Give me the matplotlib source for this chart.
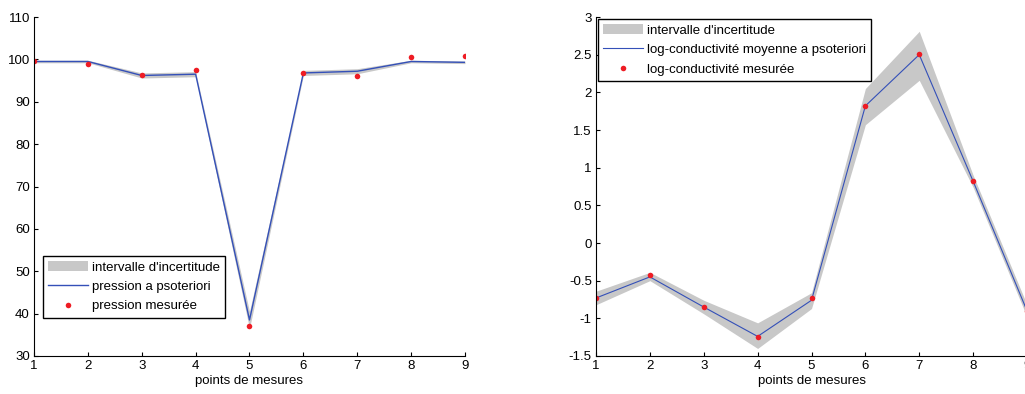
import numpy as np
import matplotlib
matplotlib.use("Agg")
import matplotlib.pyplot as plt

plt.rcParams['font.family'] = ['Liberation Sans', 'DejaVu Sans']

points = [1, 2, 3, 4, 5, 6, 7, 8, 9]

# left: pressure
p_mean = [99.5, 99.5, 96.2, 96.5, 38.5, 96.8, 97.2, 99.5, 99.3]
p_low = [99.2, 99.2, 95.6, 95.9, 36.5, 96.2, 96.6, 99.2, 99.0]
p_high = [99.8, 99.8, 96.8, 97.1, 40.5, 97.4, 97.8, 99.8, 99.6]
p_meas = [99.5, 98.9, 96.3, 97.5, 37.1, 96.9, 96.1, 100.6, 100.8]

# right: log-conductivity
k_mean = [-0.73, -0.45, -0.85, -1.24, -0.76, 1.82, 2.50, 0.82, -0.90]
k_low = [-0.82, -0.50, -0.94, -1.40, -0.87, 1.57, 2.16, 0.74, -0.98]
k_high = [-0.64, -0.39, -0.76, -1.06, -0.66, 2.05, 2.81, 0.90, -0.82]
k_meas = [-0.73, -0.43, -0.85, -1.245, -0.73, 1.82, 2.51, 0.82, -0.90]

W, H = 1025, 394
fig = plt.figure(figsize=(W / 100, H / 100), dpi=100)

band_c = '#c8c8c8'
line_c = '#3450b8'
dot_c = '#ee1c24'
fs = 9.5


def px_axes(l, r, t, b):
    return fig.add_axes([l / W, 1 - b / H, (r - l) / W, (b - t) / H])


def style(ax):
    for s in ['top', 'right']:
        ax.spines[s].set_visible(False)
    ax.tick_params(direction='in', length=3, width=0.8, labelsize=fs, pad=3)
    ax.set_xlabel('points de mesures', fontsize=fs, labelpad=2)


legkw = dict(loc='upper left', bbox_transform=fig.transFigure, fontsize=fs, frameon=True,
             fancybox=False, edgecolor='black', framealpha=1, handlelength=3.0,
             borderaxespad=0, borderpad=0.4, labelspacing=0.55, handletextpad=0.3)

ax1 = px_axes(34, 465, 17, 356)
ax1.fill_between(points, p_low, p_high, color=band_c, lw=0, label="intervalle d'incertitude")
ax1.plot(points, p_mean, color=line_c, lw=1, label='pression a psoteriori')
ax1.plot(points, p_meas, 'o', color=dot_c, ms=4, mec='none', label='pression mesurée')
ax1.set_xlim(1, 9)
ax1.set_ylim(30, 110)
ax1.set_xticks(points)
ax1.set_yticks(np.arange(30, 111, 10))
style(ax1)
leg1 = ax1.legend(bbox_to_anchor=(43 / W, 1 - 256 / H), **legkw)
leg1.get_frame().set_linewidth(1.0)

ax2 = px_axes(596, 1027, 17, 356)
ax2.fill_between(points, k_low, k_high, color=band_c, lw=0, label="intervalle d'incertitude")
ax2.plot(points, k_mean, color=line_c, lw=0.8, label='log-conductivité moyenne a psoteriori')
ax2.plot(points, k_meas, 'o', color=dot_c, ms=4, mec='none', label='log-conductivité mesurée')
ax2.set_xlim(1, 9)
ax2.set_ylim(-1.5, 3)
ax2.set_xticks(points)
ax2.set_yticks([-1.5, -1, -0.5, 0, 0.5, 1, 1.5, 2, 2.5, 3])
ax2.set_yticklabels(['-1.5', '-1', '-0.5', '0', '0.5', '1', '1.5', '2', '2.5', '3'])
style(ax2)
leg2 = ax2.legend(bbox_to_anchor=(598 / W, 1 - 19 / H), **legkw)
leg2.get_frame().set_linewidth(1.0)

fig.savefig('out.png', dpi=100)
